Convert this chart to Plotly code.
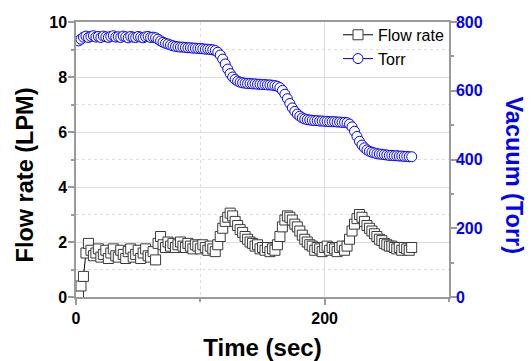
import plotly.graph_objects as go

# time base (s), sampled every 2 s
time_s = list(range(2, 271, 2))

flow_lpm = [
    0.05, 0.40, 0.75, 1.60, 1.95, 1.70, 1.50, 1.60, 1.75, 1.45,
    1.55, 1.70, 1.40, 1.60, 1.75, 1.50, 1.45, 1.70, 1.55, 1.40,
    1.65, 1.75, 1.45, 1.55, 1.70, 1.40, 1.60, 1.75, 1.50, 1.45,
    1.65, 1.35, 1.95, 2.20, 1.90, 1.80, 2.00, 1.85, 1.95, 1.80,
    1.90, 2.00, 1.85, 1.80, 1.95, 1.85, 1.75, 1.90, 1.85, 1.75,
    1.90, 1.80, 1.70, 1.85, 1.75, 1.65, 1.90, 2.20, 2.50, 2.75,
    2.90, 3.05, 2.95, 2.75, 2.60, 2.45, 2.35, 2.20, 2.10, 2.00,
    1.95, 1.85, 1.90, 1.75, 1.80, 1.70, 1.80, 1.65, 1.75, 1.70,
    1.90, 2.20, 2.55, 2.80, 2.95, 2.90, 2.80, 2.65, 2.55, 2.40,
    2.25, 2.10, 2.00, 1.90, 1.85, 1.70, 1.80, 1.75, 1.65, 1.80,
    1.85, 1.70, 1.80, 1.75, 1.65, 1.80, 1.85, 1.70, 1.85, 2.10,
    2.40, 2.65, 2.85, 3.00, 2.90, 2.75, 2.60, 2.50, 2.40, 2.30,
    2.20, 2.10, 2.05, 1.95, 1.90, 1.85, 1.85, 1.80, 1.75, 1.80,
    1.70, 1.80, 1.75, 1.70, 1.80,
]

vacuum_torr = [
    745, 750, 756, 759, 755, 758, 760, 756, 758, 755,
    759, 757, 755, 758, 760, 756, 757, 755, 759, 757,
    754, 758, 756, 755, 758, 756, 754, 757, 758, 755,
    756, 754, 750, 745, 741, 738, 736, 733, 731, 729,
    728, 727, 727, 726, 725, 725, 724, 724, 723, 723,
    722, 721, 721, 720, 719, 717, 712, 704, 692, 678,
    663, 650, 640, 633, 628, 625, 623, 622, 621, 621,
    620, 620, 619, 619, 618, 618, 617, 617, 616, 615,
    613, 609, 601, 590, 577, 563, 550, 540, 532, 526,
    521, 518, 516, 515, 514, 513, 513, 512, 512, 511,
    511, 510, 510, 510, 509, 509, 508, 508, 507, 503,
    495, 482, 467, 453, 442, 434, 428, 424, 421, 419,
    417, 416, 415, 414, 413, 412, 412, 411, 411, 410,
    410, 409, 409, 408, 408,
]

assert len(time_s) == len(flow_lpm) == len(vacuum_torr)

FONT = "Liberation Sans, Arial, sans-serif"
BLUE = "#0000ff"
AXIS = "#9a9a9a"
GRID = "#dedede"

fig = go.Figure()
fig.add_trace(go.Scatter(
    x=time_s, y=flow_lpm, name="Flow rate", mode="lines+markers",
    line=dict(color="black", width=1),
    marker=dict(symbol="square", size=10, color="white",
                line=dict(color="#3a3a3a", width=1)),
))
fig.add_trace(go.Scatter(
    x=time_s, y=vacuum_torr, name="Torr", mode="lines+markers", yaxis="y2",
    line=dict(color=BLUE, width=1),
    marker=dict(symbol="circle", size=10, color="white",
                line=dict(color=BLUE, width=1)),
))

fig.update_layout(
    width=531, height=361,
    margin=dict(l=76, r=82, t=22, b=64, autoexpand=False),
    paper_bgcolor="white", plot_bgcolor="white",
    font=dict(family=FONT, color="black"),
    showlegend=True,
    legend=dict(x=1, xanchor="right", y=1.015, yanchor="top",
                bgcolor="rgba(0,0,0,0)", font=dict(size=16, color="black"),
                tracegroupgap=0),
    xaxis=dict(
        automargin=False,
        range=[0, 300], tick0=0, dtick=200, ticks="outside", ticklen=6,
        tickcolor=AXIS, tickwidth=1.5, showline=True, linecolor=AXIS,
        linewidth=1.5, mirror=True, zeroline=False,
        showgrid=True, gridcolor=GRID, gridwidth=1,
        minor=dict(dtick=100, ticks="outside", ticklen=3, tickcolor=AXIS,
                   showgrid=True, gridcolor=GRID, griddash="dot"),
        tickfont=dict(size=16, weight="bold", color="black"),
        title=dict(text="Time (sec)", standoff=14,
                   font=dict(size=24, weight="bold", color="black")),
    ),
    yaxis=dict(
        automargin=False,
        range=[0, 10], tick0=0, dtick=2, ticks="outside", ticklen=6,
        tickcolor=AXIS, tickwidth=1.5, showline=True, linecolor=AXIS,
        linewidth=1.5, zeroline=False,
        showgrid=True, gridcolor=GRID, gridwidth=1,
        minor=dict(dtick=1, ticks="outside", ticklen=3, tickcolor=AXIS,
                   showgrid=True, gridcolor=GRID, griddash="dot"),
        tickfont=dict(size=16, weight="bold", color="black"),
        ticklabelstandoff=-2,
    ),
    yaxis2=dict(
        automargin=False,
        overlaying="y", side="right",
        range=[0, 800], tick0=0, dtick=200, ticks="outside", ticklen=6,
        tickcolor=AXIS, tickwidth=1.5, showline=True, linecolor=AXIS,
        linewidth=1.5, zeroline=False, showgrid=False,
        minor=dict(dtick=100, ticks="outside", ticklen=3, tickcolor=AXIS,
                   showgrid=False),
        tickfont=dict(size=16, weight="bold", color=BLUE),
        ticklabelstandoff=-4,
    ),
    annotations=[
        dict(text="Flow rate (LPM)", textangle=-90, xref="paper", yref="paper",
             x=0, y=0.442, xshift=-51, xanchor="center", yanchor="middle",
             showarrow=False,
             font=dict(size=23.5, weight="bold", color="black")),
        dict(text="Vacuum (Torr)", textangle=90, xref="paper", yref="paper",
             x=1, y=0.442, xshift=65, xanchor="center", yanchor="middle",
             showarrow=False,
             font=dict(size=23.5, weight="bold", color=BLUE)),
    ],
)

fig.write_html("out.html", config={"displayModeBar": False},
               post_script="document.body.style.margin='0px';")
